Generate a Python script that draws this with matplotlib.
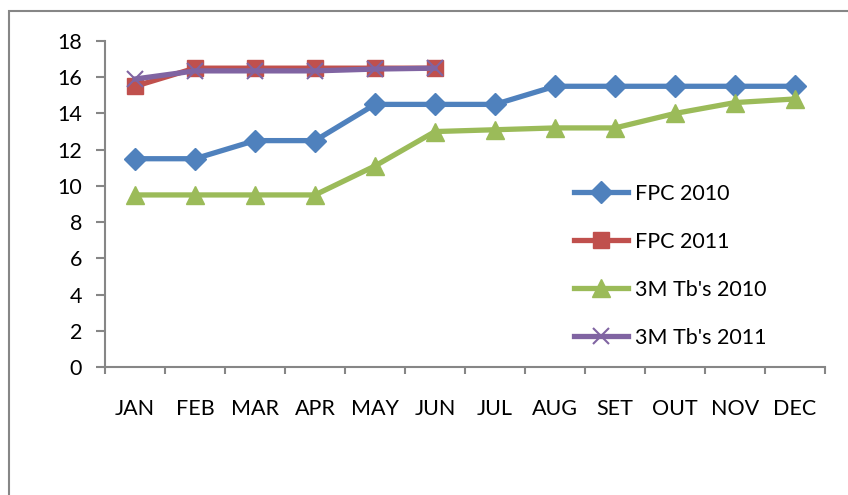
import matplotlib.pyplot as plt
import numpy as np
from matplotlib.patches import Rectangle

months = ["JAN", "FEB", "MAR", "APR", "MAY", "JUN",
          "JUL", "AUG", "SET", "OUT", "NOV", "DEC"]
fpc_2010 = [11.5, 11.5, 12.5, 12.5, 14.5, 14.5, 14.5, 15.5, 15.5, 15.5, 15.5, 15.5]
fpc_2011 = [15.5, 16.5, 16.5, 16.5, 16.5, 16.5]
tb_2010 = [9.5, 9.5, 9.5, 9.5, 11.1, 13.0, 13.1, 13.2, 13.2, 14.0, 14.6, 14.8]
tb_2011 = [15.9, 16.35, 16.35, 16.35, 16.45, 16.5]
y_ticks = [0, 2, 4, 6, 8, 10, 12, 14, 16, 18]

plt.rcParams['font.family'] = ['Lato', 'DejaVu Sans']
grey = '#868686'
fs = 15.5

fig = plt.figure(figsize=(8.48, 4.95), dpi=100)
ax = fig.add_axes([105 / 848, 1 - 367 / 495, 720 / 848, 326 / 495])

# frame of the chart area (cut off at right and bottom)
fig.patches.append(Rectangle((9 / 848, -0.1), 1.2, 1 - 11 / 495 + 0.1,
                             transform=fig.transFigure, fill=False,
                             edgecolor=grey, linewidth=1.5))

x = np.arange(len(months))
lw = 3.8
ax.plot(x, fpc_2010, color='#4F81BD', lw=lw, marker='D', ms=11, label="FPC 2010")
ax.plot(x[:len(fpc_2011)], fpc_2011, color='#C0504D', lw=lw, marker='s', ms=12, label="FPC 2011")
ax.plot(x, tb_2010, color='#9BBB59', lw=lw, marker='^', ms=13, label="3M Tb's 2010")
ax.plot(x[:len(tb_2011)], tb_2011, color='#8064A2', lw=lw, marker='x', ms=12,
        mew=1.5, label="3M Tb's 2011")

ax.set_xlim(-0.5, 11.5)
ax.set_ylim(0, 18)
ax.set_yticks(y_ticks)
ax.set_xticks(x)
ax.set_xticklabels(months)
ax.set_xticks(np.arange(-0.5, 12, 1), minor=True)
ax.tick_params(axis='x', which='major', length=0, pad=23, labelsize=fs)
ax.tick_params(axis='x', which='minor', length=5, color=grey, width=1.5, direction='out')
ax.tick_params(axis='y', length=6.5, color=grey, width=1.5, pad=10, labelsize=fs)

for s in ['top', 'right']:
    ax.spines[s].set_visible(False)
for s in ['left', 'bottom']:
    ax.spines[s].set_color(grey)
    ax.spines[s].set_linewidth(1.5)

ax.legend(loc='center left', bbox_to_anchor=(555 / 848, 1 - 266 / 495),
          bbox_transform=fig.transFigure, frameon=False, fontsize=fs,
          handlelength=2.5, labelspacing=1.3, handletextpad=0.3)

fig.savefig("out.png", dpi=100)
